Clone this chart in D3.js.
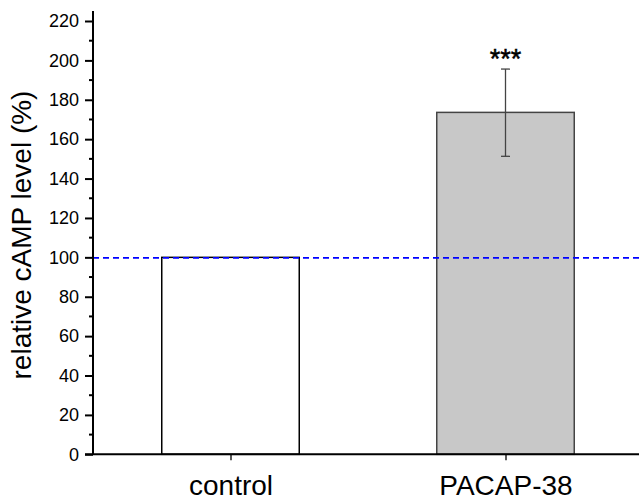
<!DOCTYPE html>
<html><head><meta charset="utf-8">
<script src="https://cdn.jsdelivr.net/npm/d3@7"></script>
<style>body{margin:0;background:#fff}svg{display:block}</style>
</head><body>
<script>
const categories = ["control", "PACAP-38"];
const values = [100, 173.6];
const errLow = [null, 151.3];
const errHigh = [null, 195.6];
const sigLabels = ["", "***"];
const fills = ["#ffffff", "#c8c8c8"];
const strokes = ["#000000", "#444444"];
const yMajorTicks = [0,20,40,60,80,100,120,140,160,180,200,220];
const yMinorTicks = [10,30,50,70,90,110,130,150,170,190,210];
const refLine = 100;

const W = 639, H = 500;
const svg = d3.select("body").append("svg").attr("width", W).attr("height", H);
const font = "'Liberation Sans', Arial, sans-serif";

const y = d3.scaleLinear().domain([0, 220]).range([454.3, 21]);
const x = d3.scalePoint().domain(categories).range([93, 643]).padding(0.5);
const barW = x.step() * 0.5;

// bars
svg.selectAll("rect.bar").data(categories).enter().append("rect")
  .attr("x", d => x(d) - barW/2).attr("width", barW)
  .attr("y", (d,i) => y(values[i])).attr("height", (d,i) => y(0) - y(values[i]))
  .attr("fill", (d,i) => fills[i]).attr("stroke", (d,i) => strokes[i]).attr("stroke-width", 1.5);

// reference dashed line
svg.append("line").attr("x1", 93).attr("x2", W)
  .attr("y1", y(refLine) + 0.5).attr("y2", y(refLine) + 0.5)
  .attr("stroke", "#0000ff").attr("stroke-width", 1.8).attr("stroke-dasharray", "6,4");

// error bars
categories.forEach((c,i) => {
  if (errHigh[i] == null) return;
  const g = svg.append("g").attr("stroke", "#444").attr("stroke-width", 1.3);
  g.append("line").attr("x1", x(c)).attr("x2", x(c)).attr("y1", y(errLow[i])).attr("y2", y(errHigh[i]));
  [errLow[i], errHigh[i]].forEach(v => g.append("line")
    .attr("x1", x(c) - 4.5).attr("x2", x(c) + 4.5).attr("y1", y(v)).attr("y2", y(v)));
  svg.append("text").attr("x", x(c)).attr("y", y(errHigh[i]) - 1)
    .attr("text-anchor", "middle").attr("font-family", font).attr("font-size", 27)
    .attr("stroke", "#000").attr("stroke-width", 0.5)
    .text(sigLabels[i]);
});

// y axis
const yAxis = d3.axisLeft(y).tickValues(yMajorTicks).tickSize(8).tickPadding(6);
const gy = svg.append("g").attr("transform", "translate(93,0)").call(yAxis);
gy.select(".domain").attr("d", `M0,${y(0)}V11`).attr("stroke-width", 2);
gy.selectAll(".tick line").attr("stroke-width", 2);
gy.selectAll("text").attr("font-family", font).attr("font-size", 18).attr("fill", "#000");
gy.selectAll(".minor").data(yMinorTicks).enter().append("line").attr("class", "minor")
  .attr("x1", 0).attr("x2", -4).attr("y1", d => y(d)).attr("y2", d => y(d))
  .attr("stroke", "#000").attr("stroke-width", 2);

// x axis
const xAxis = d3.axisBottom(x).tickSize(6).tickPadding(15);
const gx = svg.append("g").attr("transform", `translate(0,${y(0)})`).call(xAxis);
gx.select(".domain").attr("d", `M85,0H${W}`).attr("stroke-width", 2);
gx.selectAll(".tick line").attr("stroke-width", 1.3);
gx.selectAll("text").attr("font-family", font).attr("font-size", 28).attr("fill", "#000");

// y label
svg.append("text").attr("transform", `translate(31,235) rotate(-90)`)
  .attr("text-anchor", "middle").attr("font-family", font).attr("font-size", 28)
  .text("relative cAMP level (%)");
</script>
</body></html>
